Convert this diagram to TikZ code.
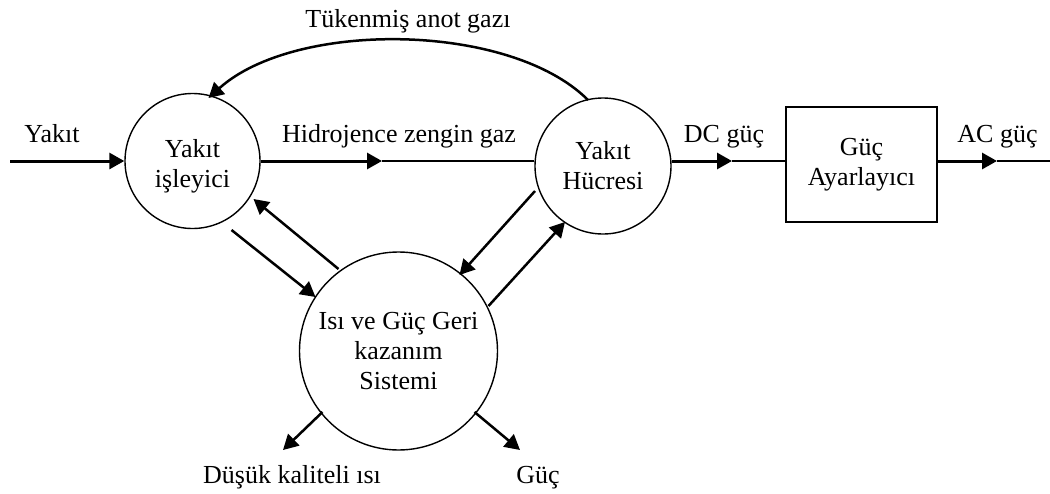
\documentclass[tikz,border=0pt]{standalone}
\usepackage{fontspec}
\setmainfont{Liberation Serif}
\usetikzlibrary{arrows.meta,calc}
\tikzset{
  lbl/.style={font=\fontsize{26}{30}\selectfont, inner sep=0pt, anchor=base},
  proc/.style={circle, draw, line width=1.4pt, inner sep=0pt, align=center, font=\fontsize{26}{30}\selectfont},
  blk/.style={rectangle, draw, line width=1.5pt, inner sep=0pt, align=center, font=\fontsize{26}{30}\selectfont, minimum width=151pt, minimum height=115pt},
  tip/.style={-{Triangle[length=15pt,width=16pt]}},
  heavy/.style={tip, line width=3pt},
  light/.style={line width=1.8pt},
  diag/.style={tip, line width=2.5pt},
}
\begin{document}
\begin{tikzpicture}[x=1pt,y=-1pt]
\useasboundingbox (0,0) rectangle (1050,493);
% nodes
\node[proc, minimum size=135pt] (c1) at (192.5,161) {\rule{0pt}{28pt}Yakıt\\işleyici};
\node[proc, minimum size=136pt] (c2) at (603,166) {Yakıt\\Hücresi};
\node[proc, minimum size=198pt] (c3) at (398.5,351) {Isı ve Güç Geri\\kazanım\\Sistemi};
\node[blk] (pc) at (861.5,164.5) {Güç\\Ayarlayıcı};
% free ends and mid-line tips
\coordinate (in) at (10,161);
\coordinate (m1) at (382,161);
\coordinate (m2) at (732,161);
\coordinate (m3) at (997,161);
\coordinate (out) at (1050,161);
\coordinate (lq) at (283,450);
\coordinate (pw) at (520,450);
% labels
\node[lbl] (tYakit) at (52,142) {Yakıt};
\node[lbl] (tHz) at (399,142) {Hidrojence zengin gaz};
\node[lbl] (tDC) at (724,142) {DC güç};
\node[lbl] (tAC) at (997.5,142) {AC güç};
\node[lbl] (tTa) at (408,27) {Tükenmiş anot gazı};
\node[lbl] (tDk) at (292,483) {Düşük kaliteli ısı};
\node[lbl] (tGu) at (538,483) {Güç};
% main line
\draw[heavy] (in) -- (c1.west);
\draw[heavy] (c1.east) -- (m1);
\draw[light] (m1) -- (m1 -| c2.west);
\draw[heavy] (m1 -| c2.east) -- (m2);
\draw[light] (m2) -- (m2 -| pc.west);
\draw[heavy] (m3 -| pc.east) -- (m3);
\draw[light] (m3) -- (out);
% recycle curve
\draw[diag] ($(c2)+(-15,-66)$) .. controls (510,22) and (295,20) .. ($(c1)+(16,-63)$);
% diagonal exchanges
\draw[diag] ($(c1)+(39,69)$) -- ($(c3)+(-83,-54)$);
\draw[diag] ($(c3)+(-60,-82)$) -- ($(c1)+(61,38)$);
\draw[diag] ($(c2)+(-68,25)$) -- ($(c3)+(61,-76)$);
\draw[diag] ($(c3)+(90,-45)$) -- ($(c2)+(-38,56)$);
\draw[diag] ($(c3)+(-76,61)$) -- (lq);
\draw[diag] ($(c3)+(76,61)$) -- (pw);
\end{tikzpicture}
\end{document}
